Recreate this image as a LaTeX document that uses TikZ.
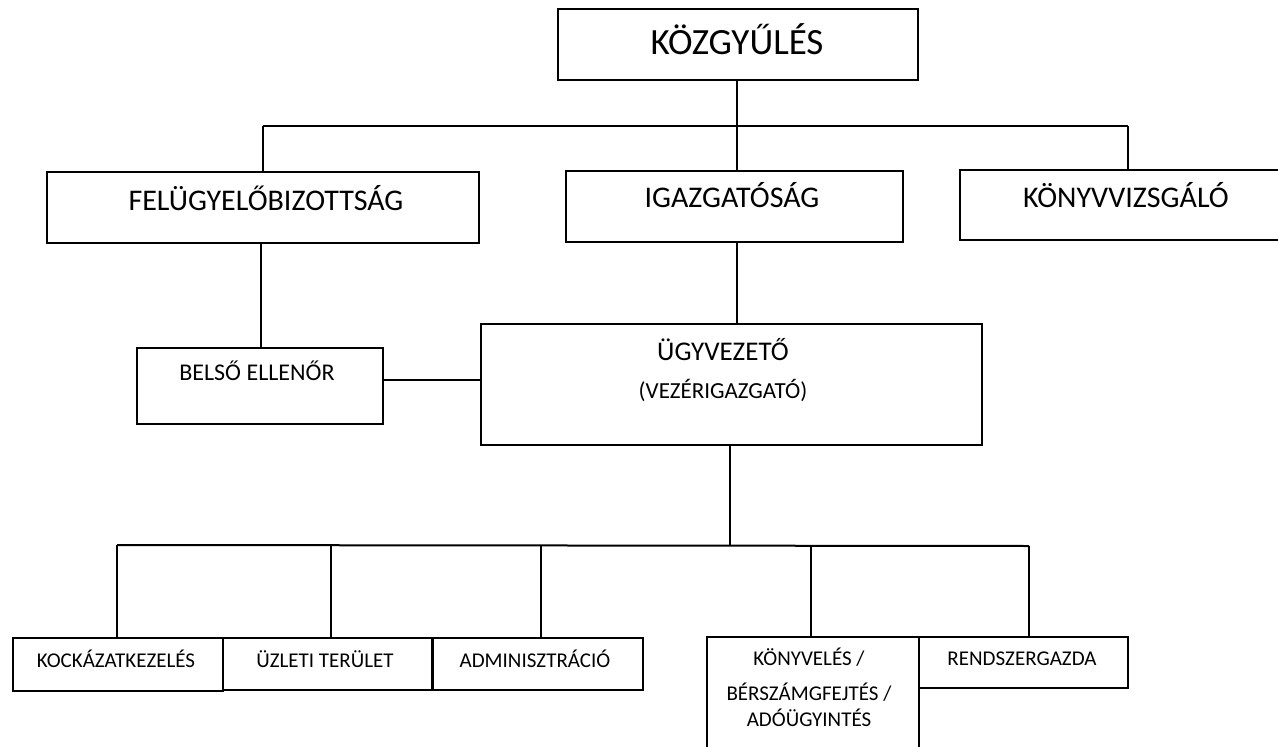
\documentclass[tikz,border=0pt]{standalone}
\usepackage{fontspec}
\setmainfont{Carlito}
\begin{document}
\begin{tikzpicture}[x=1pt,y=-1pt,
  box/.style={draw,line width=2pt,rectangle,inner sep=0pt,outer sep=0pt,anchor=north west},
  conn/.style={line width=2pt},
  lbl/.style={anchor=base,inner sep=0pt},
  fA/.style={font=\fontsize{37}{42}\selectfont},
  fB/.style={font=\fontsize{30}{34}\selectfont},
  fU/.style={font=\fontsize{27}{32}\selectfont},
  fC/.style={font=\fontsize{24}{28}\selectfont},
  fV/.style={font=\fontsize{23}{27}\selectfont},
  fE/.style={font=\fontsize{21}{25}\selectfont}]
\useasboundingbox (0,0) rectangle (1278,747);
% boxes
\node[box,minimum width=360pt,minimum height=71pt] (kozgy) at (558,9) {};
\node[box,minimum width=432pt,minimum height=71pt] (felugy) at (47,172) {};
\node[box,minimum width=337pt,minimum height=71pt] (igazg) at (566,171) {};
\node[box,minimum width=360pt,minimum height=70pt] (konyvv) at (960,170) {};
\node[box,minimum width=246pt,minimum height=76pt] (belso) at (137,348) {};
\node[box,minimum width=501pt,minimum height=121pt] (ugyv) at (481,324) {};
\node[box,minimum width=210pt,minimum height=53pt] (kock) at (13,638) {};
\node[box,minimum width=209pt,minimum height=52pt] (uzleti) at (223,638) {};
\node[box,minimum width=210pt,minimum height=52pt] (admin) at (433,638) {};
\node[box,minimum width=212pt,minimum height=130pt] (konyvel) at (707,637) {};
\node[box,minimum width=209pt,minimum height=51pt] (rendsz) at (919,637) {};
% labels
\node[lbl,fA] (tkozgy) at (737,54) {KÖZGYŰLÉS};
\node[lbl,fB] (tfelugy) at (266,210) {FELÜGYELŐBIZOTTSÁG};
\node[lbl,fB] (tigazg) at (732,207) {IGAZGATÓSÁG};
\node[lbl,fB] (tkonyvv) at (1126,207) {KÖNYVVIZSGÁLÓ};
\node[lbl,fC] (tbelso) at (257,380) {BELSŐ ELLENŐR};
\node[lbl,fU] (tugyv1) at (723,360) {ÜGYVEZETŐ};
\node[lbl,fV] (tugyv2) at (723,398) {(VEZÉRIGAZGATÓ)};
\node[lbl,fE] (tkock) at (116,667) {KOCKÁZATKEZELÉS};
\node[lbl,fE] (tuzleti) at (325,667) {ÜZLETI TERÜLET};
\node[lbl,fE] (tadmin) at (535,667) {ADMINISZTRÁCIÓ};
\node[lbl,fE] (tkv1) at (809,665) {KÖNYVELÉS /};
\node[lbl,fE] (tkv2) at (809,700) {BÉRSZÁMGFEJTÉS /};
\node[lbl,fE] (tkv3) at (809,726) {ADÓÜGYINTÉS};
\node[lbl,fE] (trendsz) at (1022,665) {RENDSZERGAZDA};
% bus coordinates
\coordinate (b1L) at (263,126);
\coordinate (b1R) at (1128,126);
\coordinate (b2L) at (117,545);
\coordinate (b2R) at (1029,546);
\coordinate (d2) at (331,545);
\coordinate (d3) at (541,545);
\coordinate (d4) at (811,546);
% connectors
\draw[conn] (b1L) -- (b1R);
\draw[conn] (kozgy.south -| tkozgy) -- (igazg.north -| tkozgy);
\draw[conn] (b1L) -- (felugy.north -| b1L);
\draw[conn] (b1R) -- (konyvv.north -| b1R);
\draw[conn] ([xshift=-2pt]felugy.south) -- ([xshift=-2pt]felugy.south |- belso.north);
\draw[conn] (belso.east |- 0,380) -- (ugyv.west |- 0,380);
\draw[conn] (igazg.south -| tkozgy) -- (ugyv.north -| tkozgy);
\draw[conn] ([xshift=-2pt]ugyv.south) -- ([xshift=-2pt]ugyv.south |- b2L);
\draw[conn] (b2L) -- (b2R);
\draw[conn] (b2L) -- (b2L |- kock.north);
\draw[conn] (d2) -- (d2 |- uzleti.north);
\draw[conn] (d3) -- (d3 |- admin.north);
\draw[conn] (d4) -- (d4 |- konyvel.north);
\draw[conn] (b2R) -- (b2R |- rendsz.north);
\end{tikzpicture}
\end{document}
